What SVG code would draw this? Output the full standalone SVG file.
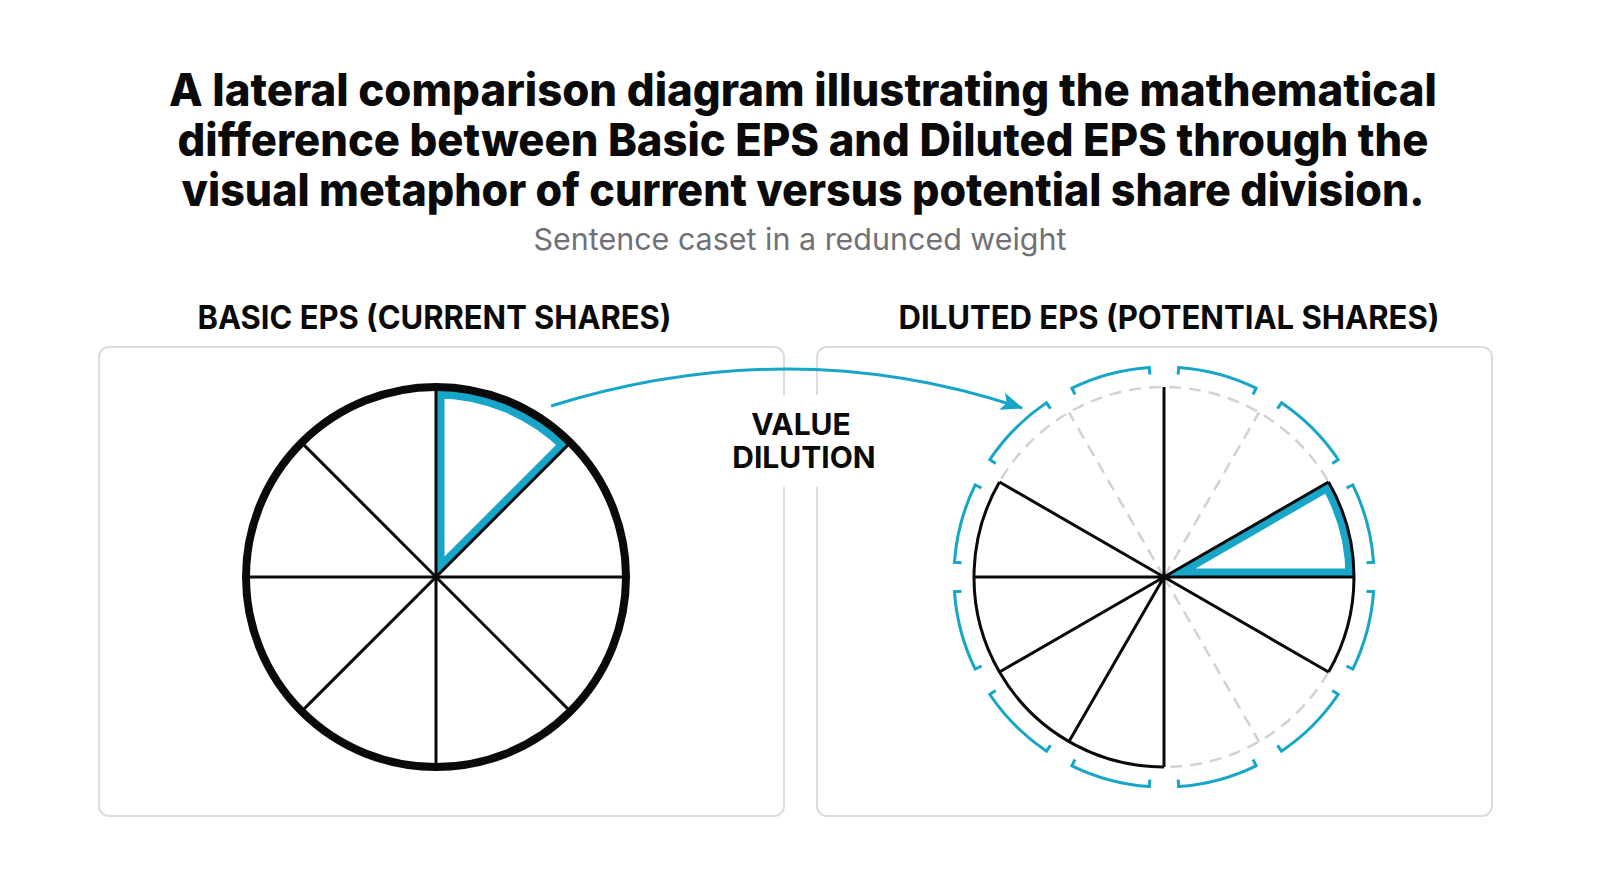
<svg xmlns="http://www.w3.org/2000/svg" width="1600" height="893" viewBox="0 0 1600 893">
  <style>
    .title { font-family: Inter, Roboto, "Liberation Sans", sans-serif; font-weight: 800; font-size: 45px; fill: #0a0a0a; text-anchor: middle; }
    .sub { font-family: Inter, Roboto, "Liberation Sans", sans-serif; font-weight: 400; font-size: 30px; fill: #707076; text-anchor: middle; }
    .head { font-family: Inter, Roboto, "Liberation Sans", sans-serif; font-weight: 700; font-size: 32px; fill: #0a0a0a; text-anchor: middle; }
    .label { font-family: Inter, Roboto, "Liberation Sans", sans-serif; font-weight: 700; font-size: 30px; fill: #0a0a0a; text-anchor: middle; }
    .panel { fill: #ffffff; stroke: #dcdcdc; stroke-width: 2; }
    .spoke { stroke: #0a0a0a; stroke-width: 3; fill: none; }
    .rim { stroke: #0a0a0a; fill: none; }
    .dash { stroke: #d2d2d2; stroke-width: 2.5; fill: none; stroke-dasharray: 12 8; }
    .hl { stroke: #17a5c8; stroke-width: 17; fill: none; stroke-linejoin: miter; }
    .ring { stroke: #17a5c8; stroke-width: 3; fill: none; }
    .conn { stroke: #17a5c8; stroke-width: 3; fill: none; }
  </style>
  <defs>
    <marker id="arrowhead" markerUnits="userSpaceOnUse" markerWidth="22" markerHeight="18" viewBox="0 0 22 18" refX="21" refY="9" orient="auto">
      <path d="M0,0 L22,9 L0,18 L5,9 Z" fill="#17a5c8"/>
    </marker>
    <clipPath id="clipLeft">
      <path d="M436 577 L570.35 442.65 A190 190 0 0 0 436 387 Z"/>
    </clipPath>
    <clipPath id="clipRight">
      <path d="M1164 577 L1354 577 A190 190 0 0 0 1328.54 482 Z"/>
    </clipPath>
  </defs>
  <rect width="1600" height="893" fill="#ffffff"/>

  <g id="title">
    <text class="title" x="803" y="106" textLength="1268" lengthAdjust="spacingAndGlyphs">A lateral comparison diagram illustrating the mathematical</text>
    <text class="title" x="803" y="156" textLength="1251" lengthAdjust="spacingAndGlyphs">difference between Basic EPS and Diluted EPS through the</text>
    <text class="title" x="803" y="206" textLength="1243" lengthAdjust="spacingAndGlyphs">visual metaphor of current versus potential share division.</text>
    <text class="sub" x="800" y="250" textLength="533" lengthAdjust="spacingAndGlyphs">Sentence caset in a redunced weight</text>
  </g>

  <g id="panel-basic">
    <rect class="panel" x="99" y="347" width="685" height="469" rx="10"/>
    <text class="head" x="434.5" y="329" textLength="474" lengthAdjust="spacingAndGlyphs">BASIC EPS (CURRENT SHARES)</text>
  </g>

  <g id="panel-diluted">
    <rect class="panel" x="817" y="347" width="675" height="469" rx="10"/>
    <text class="head" x="1169" y="329" textLength="541" lengthAdjust="spacingAndGlyphs">DILUTED EPS (POTENTIAL SHARES)</text>
  </g>

  <g id="pie-basic">
    <path class="hl" clip-path="url(#clipLeft)" d="M436 577 L568.23 444.77 A187 187 0 0 0 436 390 Z"/>
    <line class="spoke" x1="246" y1="577" x2="626" y2="577"/>
    <line class="spoke" x1="436" y1="387" x2="436" y2="767"/>
    <line class="spoke" x1="301.65" y1="442.65" x2="570.35" y2="711.35"/>
    <line class="spoke" x1="301.65" y1="711.35" x2="570.35" y2="442.65"/>
    <circle class="rim" cx="436" cy="577" r="190" stroke-width="8"/>
  </g>

  <g id="pie-diluted">
    <circle class="dash" cx="1164" cy="577" r="190"/>
    <line class="dash" x1="1164" y1="577" x2="1259" y2="412.46"/>
    <line class="dash" x1="1164" y1="577" x2="1069" y2="412.46"/>
    <line class="dash" x1="1164" y1="577" x2="1259" y2="741.54"/>
    <path class="hl" clip-path="url(#clipRight)" d="M1164 577 L1354 577 A190 190 0 0 0 1328.54 482 Z"/>
    <path class="spoke" d="M1164 577 L1354 577 M1164 577 L1328.54 482 M1164 577 L1164 387 M1164 577 L999.46 482 M1164 577 L974 577 M1164 577 L999.46 672 M1164 577 L1069 741.54 M1164 577 L1164 767 M1164 577 L1328.54 672"/>
    <path class="rim" stroke-width="3" d="M1328.54 482 A190 190 0 0 1 1328.54 672 M999.46 482 A190 190 0 0 0 1164 767"/>
  </g>

  <g id="ring-diluted" transform="translate(1164 577) scale(1.01) translate(-1164 -577)">
    <path class="ring" d="M1364.51 562.98 L1371.49 562.49 A208 208 0 0 0 1350.95 485.82 L1344.66 488.89"/>
    <path class="ring" d="M1330.64 464.60 L1336.44 460.69 A208 208 0 0 0 1280.31 404.56 L1276.40 410.36"/>
    <path class="ring" d="M1252.11 396.34 L1255.18 390.05 A208 208 0 0 0 1178.51 369.51 L1178.02 376.49"/>
    <path class="ring" d="M1149.98 376.49 L1149.49 369.51 A208 208 0 0 0 1072.82 390.05 L1075.89 396.34"/>
    <path class="ring" d="M1051.60 410.36 L1047.69 404.56 A208 208 0 0 0 991.56 460.69 L997.36 464.60"/>
    <path class="ring" d="M983.34 488.89 L977.05 485.82 A208 208 0 0 0 956.51 562.49 L963.49 562.98"/>
    <path class="ring" d="M963.49 591.02 L956.51 591.51 A208 208 0 0 0 977.05 668.18 L983.34 665.11"/>
    <path class="ring" d="M997.36 689.40 L991.56 693.31 A208 208 0 0 0 1047.69 749.44 L1051.60 743.64"/>
    <path class="ring" d="M1075.89 757.66 L1072.82 763.95 A208 208 0 0 0 1149.49 784.49 L1149.98 777.51"/>
    <path class="ring" d="M1178.02 777.51 L1178.51 784.49 A208 208 0 0 0 1255.18 763.95 L1252.11 757.66"/>
    <path class="ring" d="M1276.40 743.64 L1280.31 749.44 A208 208 0 0 0 1336.44 693.31 L1330.64 689.40"/>
    <path class="ring" d="M1344.66 665.11 L1350.95 668.18 A208 208 0 0 0 1371.49 591.51 L1364.51 591.02"/>
  </g>

  <g id="label-dilution">
    <rect x="722" y="395" width="170" height="92" fill="#ffffff"/>
    <text class="label" x="801" y="435">VALUE</text>
    <text class="label" x="804" y="468">DILUTION</text>
  </g>

  <g id="connectors">
    <path class="conn" d="M551 406 Q793 331 1022 408" marker-end="url(#arrowhead)"/>
  </g>
</svg>
